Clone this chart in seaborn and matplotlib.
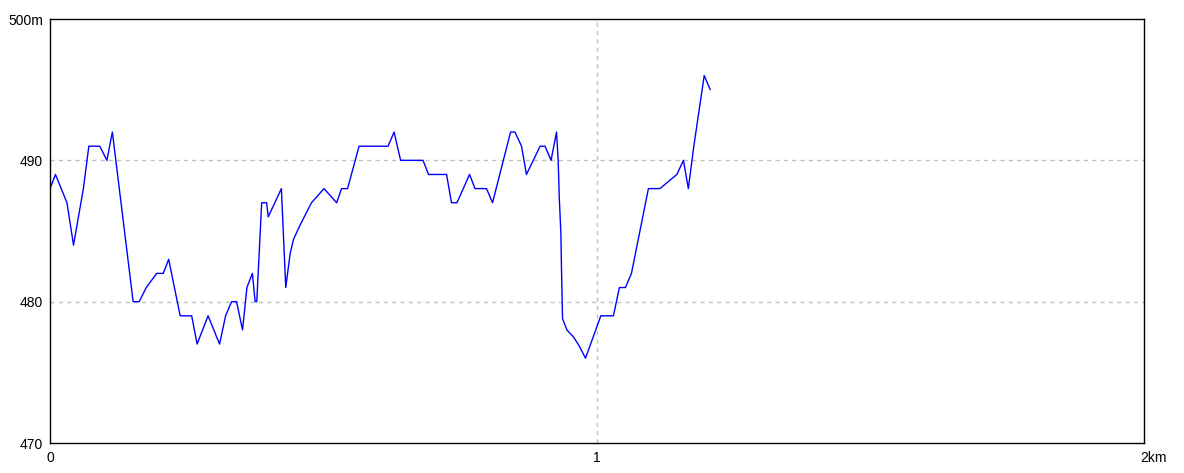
import pandas as pd
import seaborn as sns
import matplotlib
matplotlib.use("Agg")
import matplotlib.pyplot as plt
import matplotlib.transforms as mtransforms

# Профиль высоты: расстояние (км) и высота (м)
distance_km = [0.000, 0.010, 0.031, 0.043, 0.061, 0.071, 0.091, 0.104, 0.114, 0.152,
               0.163, 0.176, 0.195, 0.207, 0.217, 0.238, 0.259, 0.269, 0.289, 0.310,
               0.321, 0.332, 0.341, 0.352, 0.360, 0.370, 0.375, 0.378, 0.387, 0.396,
               0.399, 0.423, 0.431, 0.439, 0.445, 0.457, 0.478, 0.501, 0.524, 0.533,
               0.544, 0.565, 0.618, 0.629, 0.641, 0.682, 0.692, 0.725, 0.734, 0.744,
               0.767, 0.777, 0.798, 0.809, 0.842, 0.850, 0.862, 0.871, 0.896, 0.905,
               0.916, 0.926, 0.929, 0.931, 0.934, 0.935, 0.937, 0.945, 0.957, 0.967,
               0.979, 1.007, 1.030, 1.041, 1.052, 1.063, 1.094, 1.115, 1.146, 1.158,
               1.167, 1.177, 1.196, 1.207]
elevation_m = [488, 489, 487, 484, 488, 491, 491, 490, 492, 480,
               480, 481, 482, 482, 483, 479, 479, 477, 479, 477,
               479, 480, 480, 478, 481, 482, 480, 480, 487, 487,
               486, 488, 481, 483.4, 484.4, 485.4, 487, 488, 487, 488,
               488, 491, 491, 492, 490, 490, 489, 489, 487, 487,
               489, 488, 488, 487, 492, 492, 491, 489, 491, 491,
               490, 492, 490, 487.4, 484.8, 482.5, 478.8, 478, 477.5, 476.9,
               476, 479, 479, 481, 481, 482, 488, 488, 489, 490,
               488, 491, 496, 495]

x_ticks = [0, 1, 2]
x_labels = ["0", "1", "2km"]
y_ticks = [470, 480, 490, 500]
y_labels = ["470", "480", "490", "500m"]

df = pd.DataFrame({"km": distance_km, "elev": elevation_m})

sns.set_style("white")
plt.rcParams["font.family"] = ["Liberation Sans", "DejaVu Sans"]

fig = plt.figure(figsize=(11.84, 4.73), dpi=100)
ax = fig.add_axes([50 / 1184, 30 / 473, 1094 / 1184, 424 / 473])

sns.lineplot(data=df, x="km", y="elev", color="#0000ff", linewidth=1.0, ax=ax)

ax.set_xlim(0, 2)
ax.set_ylim(470, 500)
ax.set_xticks(x_ticks)
ax.set_xticklabels(x_labels)
ax.set_yticks(y_ticks)
ax.set_yticklabels(y_labels)
ax.set_xlabel("")
ax.set_ylabel("")

# Сетка только на внутренних делениях
for yv in y_ticks[1:-1]:
    ax.axhline(yv, color="#c0c0c0", linestyle=(0, (3, 3)), linewidth=1, zorder=0)
for xv in x_ticks[1:-1]:
    ax.axvline(xv, color="#c0c0c0", linestyle=(0, (3, 3)), linewidth=1, zorder=0)

ax.tick_params(axis="both", length=0, labelsize=10, colors="black")
ax.tick_params(axis="x", pad=6)
ax.tick_params(axis="y", pad=5)

# "2km" начинается от деления
last = ax.get_xticklabels()[-1]
last.set_horizontalalignment("left")
last.set_transform(last.get_transform() + mtransforms.ScaledTranslation(-4 / 100, 0, fig.dpi_scale_trans))

for s in ax.spines.values():
    s.set_color("black")
    s.set_linewidth(1)
    s.set_visible(True)

fig.savefig("out.png", dpi=100, facecolor="white")
